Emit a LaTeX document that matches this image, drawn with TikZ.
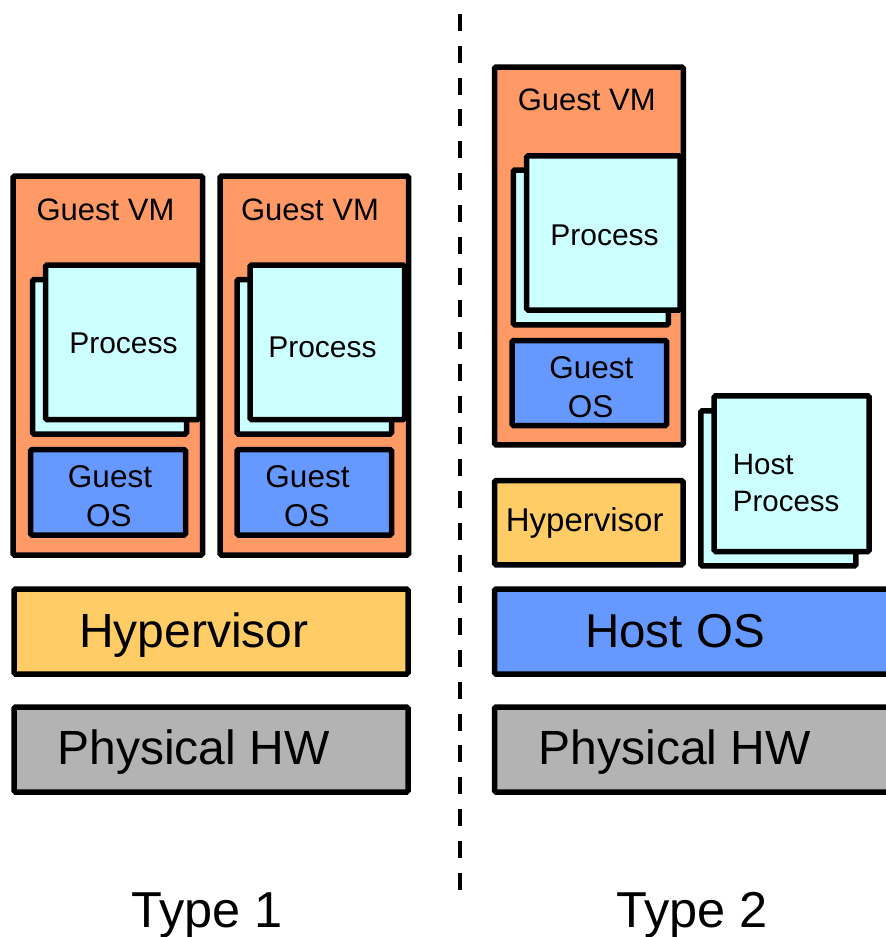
\documentclass[tikz,border=0pt]{standalone}
\usepackage{fontspec}
\setmainfont{Liberation Sans}
\definecolor{vmorange}{HTML}{FF9966}
\definecolor{proccyan}{HTML}{CCFFFF}
\definecolor{osblue}{HTML}{6699FF}
\definecolor{hvyellow}{HTML}{FFCC66}
\definecolor{hwgray}{HTML}{B3B3B3}
\tikzset{
  box/.style={draw=black, line width=5.5pt, rounded corners=1.5pt, inner sep=0pt, rectangle},
  vmbox/.style={box, fill=vmorange},
  procbox/.style={box, fill=proccyan},
  osbox/.style={box, fill=osblue},
  hvbox/.style={box, fill=hvyellow},
  hwbox/.style={box, fill=hwgray},
  lbl/.style={inner sep=0pt, anchor=base, text=black},
  lblw/.style={inner sep=0pt, anchor=base west, text=black},
}
\newcommand{\fsz}[1]{\fontsize{#1}{#1}\selectfont}
\begin{document}
\begin{tikzpicture}[x=1pt,y=-1pt]
\useasboundingbox (0,0) rectangle (886,937);
\clip (0,0) rectangle (886,937);

% ---------- Type 1 ----------
\node[vmbox, minimum width=189.5pt, minimum height=379pt] (vm1) at (107.75,365.5) {};
\node[procbox, minimum width=154pt, minimum height=154.5pt] (p1b) at (109.5,356.75) {};
\node[procbox, minimum width=153.5pt, minimum height=154.5pt] (p1f) at (122.25,342.25) {};
\node[osbox, minimum width=155pt, minimum height=85.5pt] (gos1) at (108,492.25) {};

\node[vmbox, minimum width=188.5pt, minimum height=379pt] (vm2) at (314.25,365.5) {};
\node[procbox, minimum width=154.5pt, minimum height=154.5pt] (p2b) at (314.25,356.75) {};
\node[procbox, minimum width=154.5pt, minimum height=154.5pt] (p2f) at (327.25,342.25) {};
\node[osbox, minimum width=154.5pt, minimum height=85.5pt] (gos2) at (314.25,492.25) {};

\node[hvbox, minimum width=394pt, minimum height=85pt] (hv1) at (211,631.5) {};
\node[hwbox, minimum width=394pt, minimum height=85pt] (hw1) at (211,749.5) {};

\node[lbl, font=\fsz{31}] (tvm1) at (105.5,220) {Guest VM};
\node[lbl, font=\fsz{31}] (tvm2) at (310,220) {Guest VM};
\node[lbl, font=\fsz{30}] (tp1) at (123.5,353.3) {Process};
\node[lbl, font=\fsz{30}] (tp2) at (322.5,357.7) {Process};
\node[lbl, font=\fsz{31.5}] (tg1a) at (110,487.7) {Guest};
\node[lbl, font=\fsz{31.5}] (tg1b) at (108.8,526.7) {OS};
\node[lbl, font=\fsz{31.5}] (tg2a) at (307.5,487.7) {Guest};
\node[lbl, font=\fsz{31.5}] (tg2b) at (306.8,526.7) {OS};
\node[lbl, font=\fsz{48}] (thv1) at (194,647.3) {Hypervisor};
\node[lbl, font=\fsz{48}] (thw1) at (193.5,764.3) {Physical HW};
\node[lbl, font=\fsz{50.5}] (type1) at (207,927.3) {Type 1};

% ---------- separator ----------
\coordinate (septop) at (460,14);
\coordinate (sepbot) at (460,890);
\draw[line width=4pt, dash pattern=on 17pt off 14.8pt] (septop) -- (sepbot);

% ---------- Type 2 ----------
\node[vmbox, minimum width=188.8pt, minimum height=377.8pt] (vm3) at (588.9,255.9) {};
\node[procbox, minimum width=155pt, minimum height=154.8pt] (p3b) at (590.8,247.4) {};
\node[procbox, minimum width=153.3pt, minimum height=154.2pt] (p3f) at (603.35,232.9) {};
\node[osbox, minimum width=154.7pt, minimum height=85pt] (gos3) at (589.35,383) {};

\node[hvbox, minimum width=188.5pt, minimum height=84.3pt] (hv2) at (588.75,522.65) {};
\node[procbox, minimum width=155pt, minimum height=155pt] (hpb) at (778.3,488.3) {};
\node[procbox, minimum width=155pt, minimum height=155.7pt] (hpf) at (791.7,473.65) {};

\node[osbox, minimum width=425pt, minimum height=85pt] (hos) at (707,631.5) {};
\node[hwbox, minimum width=425pt, minimum height=85pt] (hw2) at (707,749.5) {};

\node[lbl, font=\fsz{31}] (tvm3) at (586.7,110) {Guest VM};
\node[lbl, font=\fsz{30}] (tp3) at (604.5,245) {Process};
\node[lbl, font=\fsz{31.5}] (tg3a) at (591.3,378.3) {Guest};
\node[lbl, font=\fsz{31.5}] (tg3b) at (590.5,417.3) {OS};
\node[lbl, font=\fsz{33}] (thv2) at (584.7,531.7) {Hypervisor};
\node[lblw, font=\fsz{29.5}] (thp1) at (732.7,474.3) {Host};
\node[lblw, font=\fsz{29.5}] (thp2) at (732.7,511) {Process};
\node[lbl, font=\fsz{47.5}] (thos) at (675,647.3) {Host OS};
\node[lbl, font=\fsz{48}] (thw2) at (674.7,764.3) {Physical HW};
\node[lbl, font=\fsz{50.5}] (type2) at (692,927.3) {Type 2};
\end{tikzpicture}
\end{document}
